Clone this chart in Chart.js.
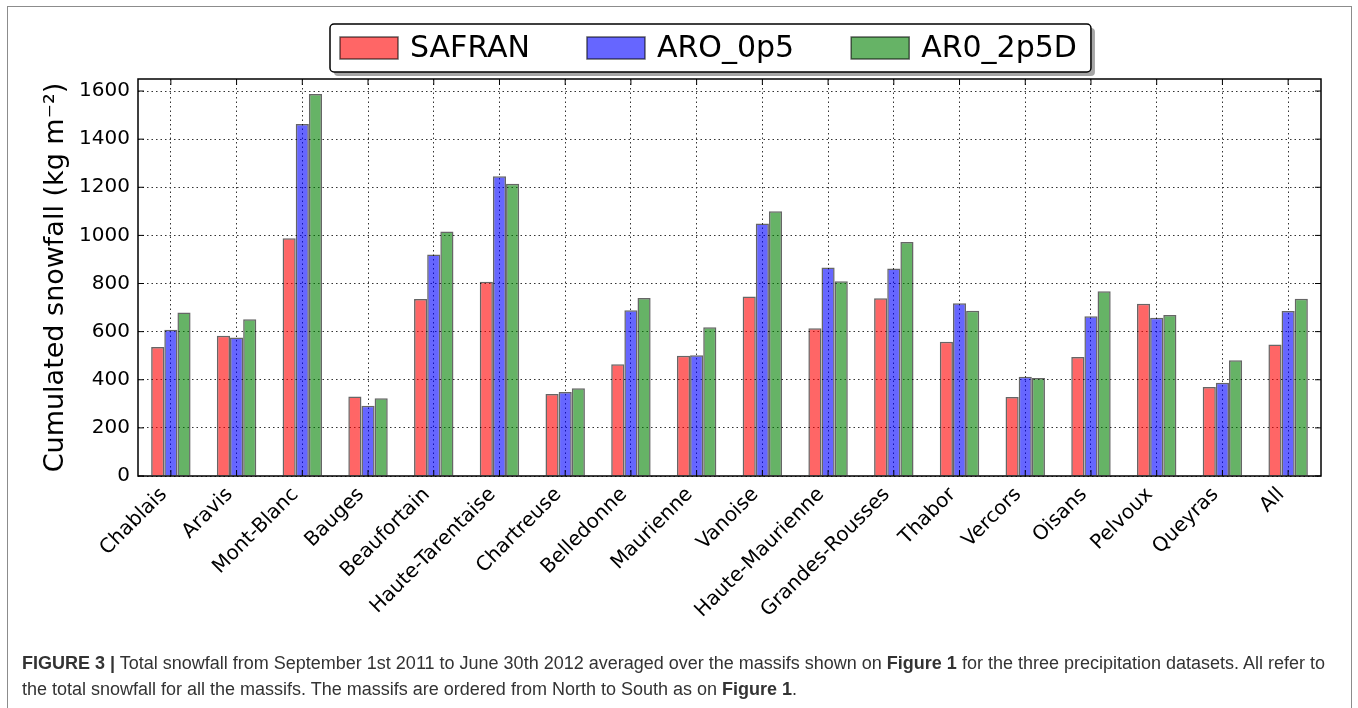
<!DOCTYPE html>
<html>
<head>
<meta charset="utf-8">
<script src="https://cdn.jsdelivr.net/npm/chart.js@4.4.0/dist/chart.umd.min.js"></script>
<style>
  body { margin: 0; background: #fff; }
  #wrap { position: relative; width: 1358px; height: 708px; overflow: hidden; }
  #frame { position: absolute; left: 7px; top: 6px; width: 1345px; height: 730px; border: 1.5px solid #8c8c8c; box-sizing: border-box; }
  canvas { position: absolute; left: 0; top: 0; }
  #caption { position: absolute; left: 22px; top: 651px; width: 1325px; font: 18px "Liberation Sans", Arial, sans-serif; line-height: 25.5px; color: #333; white-space: nowrap; }
</style>
</head>
<body>
<div id="wrap">
  <div id="frame"></div>
  <canvas id="snowChart" width="1358" height="708"></canvas>
  <div id="caption"><b>FIGURE 3 |</b> Total snowfall from September 1st 2011 to June 30th 2012 averaged over the massifs shown on <b>Figure 1</b> for the three precipitation datasets. All refer to<br>the total snowfall for all the massifs. The massifs are ordered from North to South as on <b>Figure 1</b>.</div>
</div>
<script>
// massifs du nord au sud
const massifs = ['Chablais', 'Aravis', 'Mont-Blanc', 'Bauges', 'Beaufortain', 'Haute-Tarentaise', 'Chartreuse',
  'Belledonne', 'Maurienne', 'Vanoise', 'Haute-Maurienne', 'Grandes-Rousses', 'Thabor', 'Vercors', 'Oisans',
  'Pelvoux', 'Queyras', 'All'];

// cumul de neige (kg m-2)
const safran  = [536, 583, 988, 330, 736, 807, 341, 464, 500, 746, 614, 739, 558, 328, 495, 716, 370, 547];
const aro0p5  = [608, 576, 1463, 292, 921, 1246, 349, 689, 502, 1049, 867, 862, 718, 412, 664, 658, 388, 686];
const aro2p5d = [680, 651, 1588, 323, 1016, 1215, 365, 740, 618, 1100, 809, 973, 687, 407, 768, 669, 481, 737];

const yTicks = [0, 200, 400, 600, 800, 1000, 1200, 1400, 1600];

const FONT = 'DejaVu Sans';
const gridDash = [1.5, 3];

// cadre du graphique + petits ticks vers l'interieur
const framePlugin = {
  id: 'frame',
  afterDatasetsDraw(chart) {
    const {ctx, chartArea: {left, right, top, bottom}, scales: {x, y}} = chart;
    ctx.save();
    ctx.strokeStyle = '#000';
    ctx.lineWidth = 1;
    ctx.beginPath();
    x.ticks.forEach((t, i) => {
      const px = x.getPixelForTick(i);
      ctx.moveTo(px, bottom); ctx.lineTo(px, bottom - 6);
      ctx.moveTo(px, top); ctx.lineTo(px, top + 6);
    });
    y.ticks.forEach((t, i) => {
      const py = y.getPixelForTick(i);
      ctx.moveTo(left, py); ctx.lineTo(left + 6, py);
      ctx.moveTo(right, py); ctx.lineTo(right - 6, py);
    });
    ctx.stroke();
    ctx.lineWidth = 1.5;
    ctx.strokeRect(left, top, right - left, bottom - top);
    ctx.restore();
  }
};

// legende dans une boite avec ombre
const legendPlugin = {
  id: 'boxLegend',
  afterDraw(chart) {
    const ctx = chart.ctx;
    const sets = chart.data.datasets;
    ctx.save();
    ctx.font = '30px ' + FONT;
    const boxX = 330, boxY = 24, boxH = 48;
    const sw = 58, sh = 22, gap = 12, itemGap = 57, pad = 10;
    let w = pad;
    sets.forEach((ds, i) => {
      w += sw + gap + ctx.measureText(ds.label).width;
      if (i < sets.length - 1) w += itemGap;
    });
    w += pad + 4;

    // ombre
    ctx.fillStyle = 'rgba(0,0,0,0.35)';
    ctx.beginPath();
    ctx.roundRect(boxX + 4, boxY + 4, w, boxH, 4);
    ctx.fill();
    ctx.fillStyle = '#fff';
    ctx.strokeStyle = '#000';
    ctx.lineWidth = 1.5;
    ctx.beginPath();
    ctx.roundRect(boxX, boxY, w, boxH, 4);
    ctx.fill();
    ctx.stroke();

    let cx = boxX + pad;
    const cy = boxY + boxH / 2;
    sets.forEach(ds => {
      ctx.fillStyle = '#fff';
      ctx.fillRect(cx, cy - sh / 2, sw, sh);
      ctx.fillStyle = ds.backgroundColor;
      ctx.fillRect(cx, cy - sh / 2, sw, sh);
      ctx.strokeStyle = ds.borderColor;
      ctx.lineWidth = 1.5;
      ctx.strokeRect(cx, cy - sh / 2, sw, sh);
      cx += sw + gap;
      ctx.fillStyle = '#000';
      ctx.textBaseline = 'middle';
      ctx.fillText(ds.label, cx, cy + 1);
      cx += ctx.measureText(ds.label).width + itemGap;
    });
    ctx.restore();
  }
};

new Chart(document.getElementById('snowChart'), {
  type: 'bar',
  data: {
    labels: massifs,
    datasets: [
      { label: 'SAFRAN', data: safran, backgroundColor: 'rgba(255,0,0,0.6)', borderColor: 'rgba(0,0,0,0.6)', borderWidth: 1.5 },
      { label: 'ARO_0p5', data: aro0p5, backgroundColor: 'rgba(0,0,255,0.6)', borderColor: 'rgba(0,0,0,0.6)', borderWidth: 1.5 },
      { label: 'AR0_2p5D', data: aro2p5d, backgroundColor: 'rgba(0,128,0,0.6)', borderColor: 'rgba(0,0,0,0.6)', borderWidth: 1.5 }
    ]
  },
  options: {
    responsive: false,
    animation: false,
    layout: { padding: { left: 0, top: 79, right: 37, bottom: 0 } },
    datasets: { bar: { categoryPercentage: 0.6, barPercentage: 1.0 } },
    plugins: { legend: { display: false }, tooltip: { enabled: false } },
    scales: {
      x: {
        grid: { color: '#333', lineWidth: 1, drawTicks: false, offset: false },
        border: { display: false, dash: gridDash },
        ticks: { font: { family: FONT, size: 20 }, color: '#000', minRotation: 45, maxRotation: 45, autoSkip: false, padding: 7, labelOffset: -7 },
        afterFit: s => { s.height = 232; }
      },
      y: {
        min: 0,
        max: 1650,
        grid: { color: '#333', lineWidth: 1, drawTicks: false },
        border: { display: false, dash: gridDash },
        ticks: { font: { family: FONT, size: 20 }, color: '#000', padding: 8, callback: v => String(v) },
        afterBuildTicks: s => { s.ticks = yTicks.map(v => ({ value: v })); },
        afterFit: s => { s.width = 138; },
        title: { display: true, text: 'Cumulated snowfall (kg m⁻²)', color: '#000', font: { family: FONT, size: 27 }, padding: { top: 40, bottom: 0 } }
      }
    }
  },
  plugins: [framePlugin, legendPlugin]
});
</script>
</body>
</html>
